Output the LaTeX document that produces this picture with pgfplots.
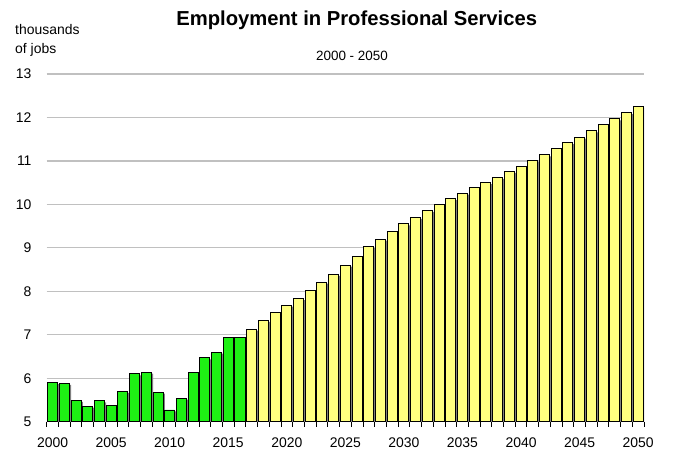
\documentclass[border=0pt]{standalone}
\usepackage{pgfplots}
\pgfplotsset{compat=1.18}
\usepackage{pgfplotstable}
\usepackage{fontspec}
\setmainfont{Liberation Sans}

\definecolor{histgreen}{RGB}{30,240,20}
\definecolor{projyellow}{RGB}{255,255,128}
\definecolor{gridgray}{RGB}{192,192,192}
\definecolor{shadowgray}{RGB}{128,128,128}

% actual employment, thousands of jobs
\pgfplotstableread{
year jobs
2000 5.90
2001 5.88
2002 5.49
2003 5.36
2004 5.48
2005 5.38
2006 5.70
2007 6.10
2008 6.14
2009 5.68
2010 5.27
2011 5.54
2012 6.13
2013 6.47
2014 6.60
2015 6.93
2016 6.93
}\actual

% projection
\pgfplotstableread{
year jobs
2017 7.13
2018 7.33
2019 7.52
2020 7.68
2021 7.83
2022 8.01
2023 8.21
2024 8.39
2025 8.60
2026 8.81
2027 9.03
2028 9.20
2029 9.38
2030 9.55
2031 9.70
2032 9.86
2033 10.00
2034 10.13
2035 10.26
2036 10.38
2037 10.50
2038 10.62
2039 10.76
2040 10.88
2041 11.01
2042 11.14
2043 11.28
2044 11.42
2045 11.55
2046 11.69
2047 11.83
2048 11.97
2049 12.11
2050 12.26
}\projected

\begin{document}
\begin{tikzpicture}[x=1bp,y=1bp]
\path[use as bounding box] (0,0) rectangle (673,451);
\begin{axis}[
    at={(46.7bp,29.3bp)}, anchor=south west,
    scale only axis,
    width=597.3bp, height=347.7bp,
    ybar, bar width=0.854,
    xmin=1999.5, xmax=2050.5,
    ymin=5, ymax=13,
    axis x line*=bottom, axis y line*=left,
    y axis line style={draw=none},
    x axis line style={black, line width=1.2bp},
    ymajorgrids, grid style={gridgray, line width=1.3bp},
    ytick={5,...,13},
    xtick={2000,2005,...,2050},
    minor xtick={1999.5,2000.5,...,2050.5},
    tick align=outside,
    major tick length=0pt, minor tick length=5bp,
    minor x tick style={black, line width=0.8bp},
    /pgf/number format/assume math mode=true,
    x tick label style={/pgf/number format/1000 sep={}},
    xticklabel style={font=\fontsize{14}{14}\selectfont, inner sep=0pt, anchor=north, yshift=-16bp},
    yticklabel style={font=\fontsize{14}{14}\selectfont, inner sep=0pt, anchor=east, xshift=-15bp},
    clip=true,
]
% drop shadows
\addplot[fill=shadowgray, draw=none, bar shift=1.8bp, yshift=-1.5bp] table[x=year, y=jobs] {\actual};
\addplot[fill=shadowgray, draw=none, bar shift=1.8bp, yshift=-1.5bp] table[x=year, y=jobs] {\projected};
% bars
\addplot[fill=histgreen, draw=black, line width=0.9bp, bar shift=0pt] table[x=year, y=jobs] {\actual};
\addplot[fill=projyellow, draw=black, line width=0.9bp, bar shift=0pt] table[x=year, y=jobs] {\projected};
\end{axis}

\node[anchor=base, font=\fontsize{20.3}{20.3}\selectfont\bfseries] at (356.7,425) {Employment in Professional Services};
\node[anchor=base, font=\fontsize{13.5}{13.5}\selectfont] at (352,390.5) {2000 - 2050};
\node[anchor=base west, inner sep=0pt, font=\fontsize{14}{14}\selectfont] at (15,416.7) {thousands};
\node[anchor=base west, inner sep=0pt, font=\fontsize{14}{14}\selectfont] at (15,397.7) {of jobs};
\end{tikzpicture}
\end{document}
